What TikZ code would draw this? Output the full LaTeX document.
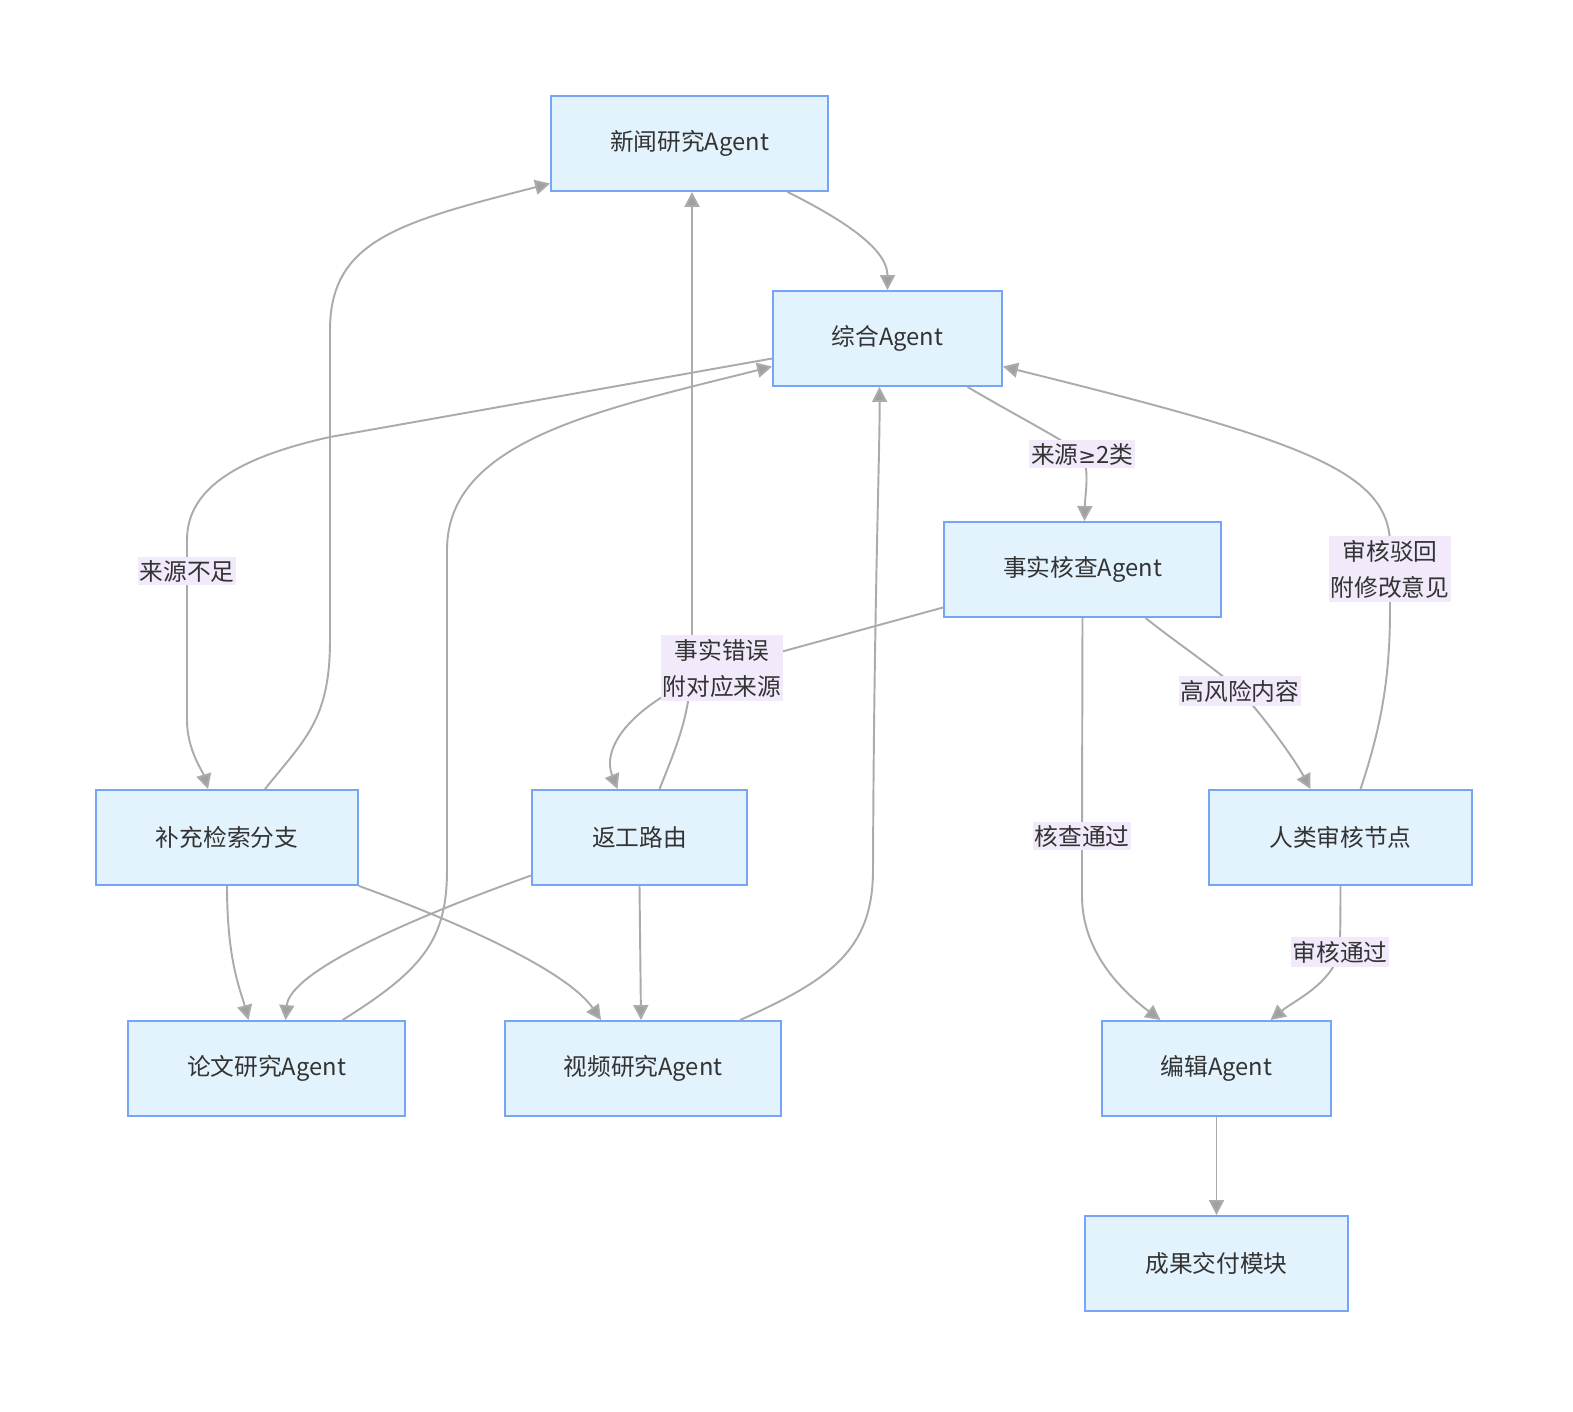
\documentclass[tikz,border=0pt]{standalone}
\usepackage{fontspec}
\setmainfont{Noto Sans CJK SC}
\newfontfamily\symfont{DejaVu Sans}
\usepackage{tikz}
\usetikzlibrary{arrows.meta, calc}
\definecolor{boxfill}{HTML}{E3F3FD}
\definecolor{boxline}{HTML}{76A5F6}
\definecolor{edgegray}{HTML}{ABABAB}
\definecolor{tipgray}{HTML}{A0A0A0}
\definecolor{lblfill}{HTML}{F2EAFB}
\definecolor{txtgray}{HTML}{333333}

\begin{document}
\begin{tikzpicture}[x=0.02cm, y=-0.02cm,
  box/.style={draw=boxline, fill=boxfill, line width=1.1pt, minimum height=1.9cm, inner sep=0pt, text=txtgray, font=\fontsize{13.5}{17}\selectfont},
  lbl/.style={fill=lblfill, text=txtgray, inner xsep=1pt, inner ysep=2pt, align=center, font=\fontsize{13.5}{20.5}\selectfont},
  flow/.style={draw=edgegray, line width=1.1pt, -{Triangle[length=0.3cm, width=0.3cm, fill=tipgray]}}]
  \useasboundingbox (0,0) rectangle (1573,1412);

  % Agent boxes
  \node[box, minimum width=5.54cm] (xinwen) at (689.5,143.5) {新闻研究Agent};
  \node[box, minimum width=4.58cm] (zonghe) at (887.5,338.5) {综合Agent};
  \node[box, minimum width=5.54cm] (shishi) at (1082.5,569.5) {事实核查Agent};
  \node[box, minimum width=5.24cm] (buchong) at (227,837.5) {补充检索分支};
  \node[box, minimum width=4.3cm] (fangong) at (639.5,837.5) {返工路由};
  \node[box, minimum width=5.26cm] (renlei) at (1340.5,837.5) {人类审核节点};
  \node[box, minimum width=5.54cm] (lunwen) at (266.5,1068.5) {论文研究Agent};
  \node[box, minimum width=5.52cm] (shipin) at (643,1068.5) {视频研究Agent};
  \node[box, minimum width=4.58cm] (bianji) at (1216.5,1068.5) {编辑Agent};
  \node[box, minimum width=5.26cm] (chengguo) at (1216.5,1263.5) {成果交付模块};

  % label spots
  \coordinate (lbuzu) at (187,571);
  \coordinate (lliang) at (1082,454);
  \coordinate (lcuowu) at (722,668);
  \coordinate (ltongguo) at (1082,836);
  \coordinate (lfengxian) at (1240,691);
  \coordinate (lbohui) at (1390,569);
  \coordinate (lshenhe) at (1340,952);

  % Main flow
  \draw[flow] ($(xinwen.south)+(98,0)$) .. controls +(60,30) and +(0,-40) .. (zonghe.north);
  \draw[flow] ($(zonghe.west)+(0,20)$) -- (330,437) .. controls (235,458) and (187,490) .. (187,540) -- (lbuzu) -- (187,720) .. controls (187,750) and (203,772) .. ($(buchong.north)+(-19,0)$);
  \draw[flow] ($(zonghe.south)+(80,0)$) .. controls (1015,415) and (1055,435) .. (lliang) .. controls (1090,470) and (1085,495) .. ($(shishi.north)+(2,0)$);
  \draw[flow] ($(shishi.west)+(0,38)$) -- (lcuowu) .. controls (625,705) and (602,750) .. ($(fangong.north)+(-22,0)$);
  \draw[flow] (shishi.south) -- (ltongguo) -- ($(ltongguo)+(0,60)$) .. controls +(0,55) and +(-40,-30) .. ($(bianji.north)+(-56,0)$);
  \draw[flow] ($(shishi.south)+(63,0)$) .. controls +(35,28) and (1215,668) .. (lfengxian) .. controls (1265,718) and (1295,760) .. ($(renlei.north)+(-30,0)$);
  \draw[flow] ($(renlei.north)+(20,0)$) .. controls +(20,-60) and (1390,680) .. (1390,610) -- (lbohui) -- (1390,540) .. controls (1385,470) and (1300,440) .. ($(zonghe.east)+(0,28)$);
  \draw[flow] (renlei.south) .. controls +(0,40) and (1340,935) .. (lshenhe) .. controls (1330,985) and (1295,1000) .. ($(bianji.north)+(54,0)$);
  \draw[flow] (bianji) -- (chengguo);

  % Branch back to research
  \draw[flow] ($(buchong.north)+(38,0)$) .. controls +(40,-50) and (330,720) .. (330,640) -- (330,330) .. controls (330,240) and (400,222) .. ($(xinwen.west)+(0,40)$);
  \draw[flow] (buchong.south) .. controls +(0,75) and +(-8,-30) .. ($(lunwen.north)+(-18,0)$);
  \draw[flow] (buchong.south east) .. controls (480,930) and (570,975) .. ($(shipin.north)+(-42,0)$);
  \draw[flow] ($(fangong.north)+(20,0)$) .. controls +(20,-50) and (692,710) .. (692,650) -- ($(xinwen.south)+(2.5,0)$);
  \draw[flow] ($(fangong.west)+(0,38)$) .. controls (420,915) and (290,970) .. ($(lunwen.north)+(19,0)$);
  \draw[flow] (fangong.south) -- ($(shipin.north)+(-2,0)$);
  \draw[flow] ($(lunwen.north)+(76,0)$) .. controls +(80,-50) and (447,940) .. (447,870) -- (447,550) .. controls (447,440) and (600,410) .. ($(zonghe.west)+(0,28)$);
  \draw[flow] ($(shipin.north)+(97,0)$) .. controls +(90,-40) and (873,950) .. (873,870) .. controls (874,600) and (880,450) .. ($(zonghe.south)+(-8,0)$);

  % Edge labels
  \node[lbl] (buzu) at (lbuzu) {来源不足};
  \node[lbl] (liang) at (lliang) {来源{\symfont\fontsize{12}{17}\selectfont ≥}2类};
  \node[lbl] (cuowu) at (lcuowu) {事实错误\\附对应来源};
  \node[lbl] (tongguo) at (ltongguo) {核查通过};
  \node[lbl] (fengxian) at (lfengxian) {高风险内容};
  \node[lbl] (bohui) at (lbohui) {审核驳回\\附修改意见};
  \node[lbl] (shenhe) at (lshenhe) {审核通过};
\end{tikzpicture}
\end{document}
